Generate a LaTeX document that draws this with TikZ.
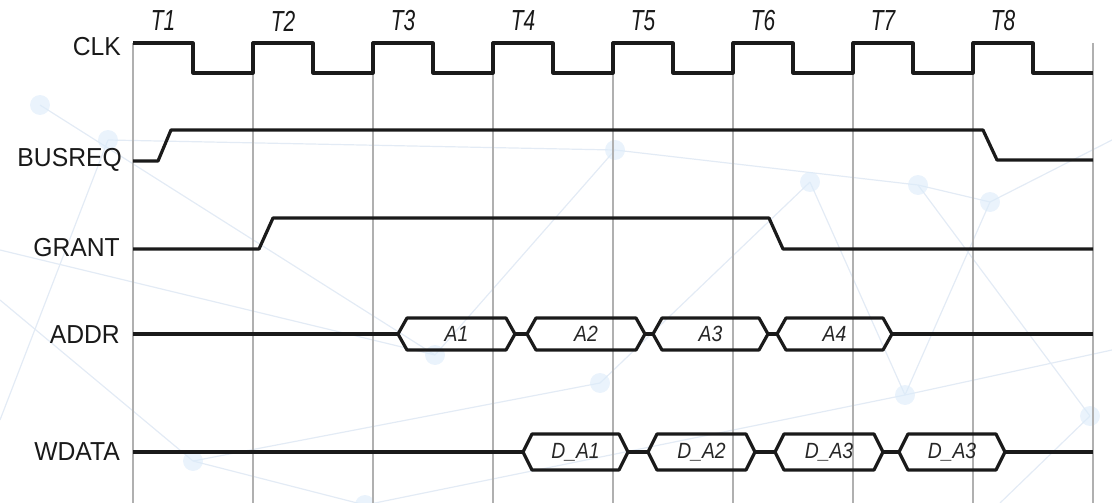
\documentclass[tikz,border=0pt]{standalone}
\usepackage{fontspec}
\setmainfont{Liberation Sans}
\definecolor{sigcol}{HTML}{1A1A1A}
\definecolor{gridcol}{HTML}{B0B0B0}
\definecolor{netcol}{HTML}{E3EBF5}
\definecolor{dotcol}{HTML}{DCEBFA}
\tikzset{
  sig/.style={draw=sigcol,line width=3.2pt,line join=round},
  tick/.style={gridcol,line width=1.6pt},
  net/.style={netcol,line width=1.2pt},
  lbl/.style={anchor=east,font=\fontsize{26}{26}\selectfont,xscale=0.95,text=black!90,inner sep=0pt},
  clklbl/.style={font=\fontsize{29}{29}\selectfont\itshape,xscale=0.72,text=black!90,inner sep=0pt},
  buslbl/.style={font=\fontsize{22}{22}\selectfont\itshape,xscale=0.88,text=black!85,inner sep=0pt},
}
\newcommand{\busseg}[6]{%
  \coordinate (#1l) at (#2,#4);
  \coordinate (#1r) at (#3,#4);
  \draw[sig] (#1l) -- (#2+9,#4-#5) -- (#3-9,#4-#5) -- (#1r) -- (#3-9,#4+#5) -- (#2+9,#4+#5) -- cycle;
  \node[buslbl] (#1) at ({(#2+#3)/2},#4) {#6};}
\begin{document}
\begin{tikzpicture}[x=1pt,y=-1pt]
  \useasboundingbox (0,0) rectangle (1112,503);
  \foreach \x/\y/\u/\v in {40/105/435/355, 108/140/615/150, 0/300/193/461, 193/461/365/505,
      193/461/600/383, 435/355/615/150, 615/150/918/185, 810/182/905/395, 918/185/1090/416,
      905/395/1112/350, 365/505/905/395, 990/202/1112/140, 600/383/810/182, 0/250/435/355,
      108/140/0/420, 918/185/990/202, 990/202/905/395, 1090/416/1000/503} {
    \draw[net] (\x,\y) -- (\u,\v);
  }
  \foreach \x/\y in {40/105, 108/140, 193/461, 365/505, 435/355, 615/150, 600/383,
      810/182, 918/185, 990/202, 905/395, 1090/416} {
    \fill[dotcol,opacity=0.6] (\x,\y) circle (10);
  }
  \foreach \i in {0,...,8} {
    \draw[tick] (133+120*\i,43) -- (133+120*\i,503);
  }
  \foreach \i in {1,...,8} {
    \node[clklbl] (t\i) at (43+120*\i,21) {T\i};
  }
  \node[lbl] (clk) at (121,47) {CLK};
  \node[lbl] (busreq) at (122,160) {BUSREQ};
  \node[lbl] (grant) at (120,248) {GRANT};
  \node[lbl] (addr) at (120,335) {ADDR};
  \node[lbl] (wdata) at (120,452) {WDATA};
  \draw[sig] (133,43) -- (193,43) \foreach \i in {1,...,7} { -- ++(0,30) -- ++(60,0) -- ++(0,-30) -- ++(60,0) } -- ++(0,30) -- ++(60,0);
  \draw[sig] (133,161) -- (158,161) -- (171,130) -- (983,130) -- (997,160) -- (1093,160);
  \draw[sig] (133,249) -- (259,249) -- (273,218) -- (769,218) -- (783,249) -- (1093,249);
  \busseg{a1}{398}{515}{334}{16}{A1}
  \busseg{a2}{527}{645}{334}{16}{A2}
  \busseg{a3}{653}{768}{334}{16}{A3}
  \busseg{a4}{777}{892}{334}{16}{A4}
  \coordinate (addrs) at (133,334);
  \coordinate (addre) at (1093,334);
  \draw[sig] (addrs) -- (a1l) (a1r) -- (a2l) (a2r) -- (a3l) (a3r) -- (a4l) (a4r) -- (addre);
  \busseg{d1}{523}{628}{452}{18}{D\_A1}
  \busseg{d2}{648}{755}{452}{18}{D\_A2}
  \busseg{d3}{775}{883}{452}{18}{D\_A3}
  \busseg{d4}{899}{1005}{452}{18}{D\_A3}
  \coordinate (wdatas) at (133,452);
  \coordinate (wdatae) at (1093,452);
  \draw[sig] (wdatas) -- (d1l) (d1r) -- (d2l) (d2r) -- (d3l) (d3r) -- (d4l) (d4r) -- (wdatae);
\end{tikzpicture}
\end{document}
